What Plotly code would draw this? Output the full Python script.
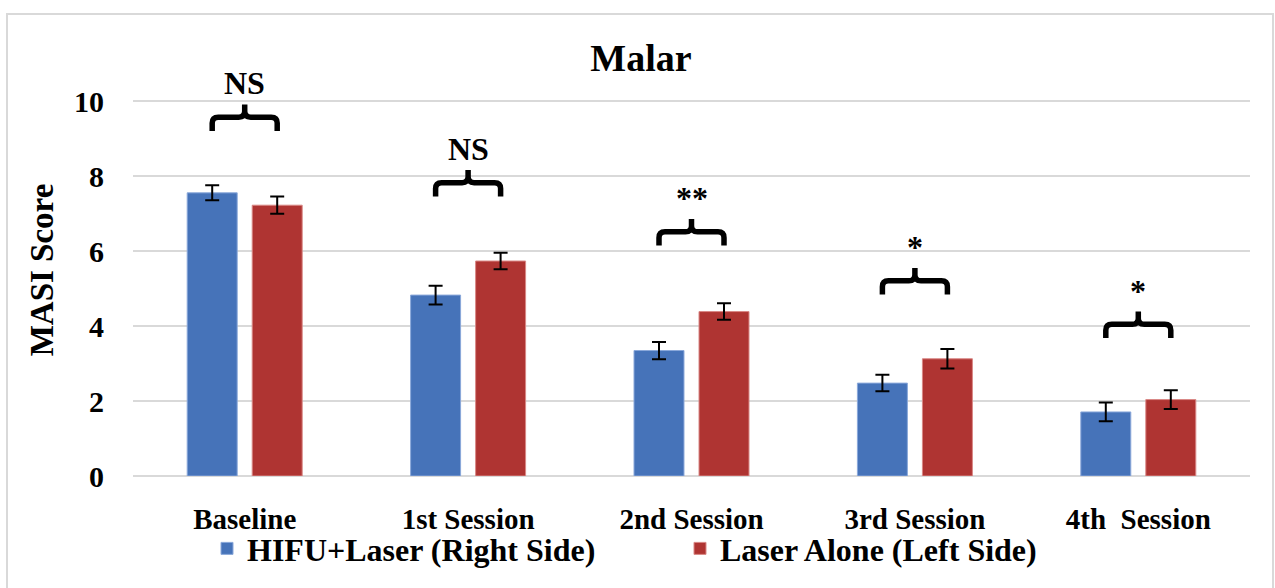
import plotly.graph_objects as go

# ---- data ----
categories = ["Baseline", "1st Session", "2nd Session", "3rd Session", "4th  Session"]
hifu_laser = [7.56, 4.83, 3.35, 2.48, 1.71]
hifu_laser_err = [0.20, 0.25, 0.23, 0.22, 0.25]
laser_alone = [7.23, 5.74, 4.39, 3.13, 2.04]
laser_alone_err = [0.23, 0.22, 0.22, 0.26, 0.25]
sig_labels = ["NS", "NS", "**", "*", "*"]
bracket_levels = [9.58, 7.83, 6.52, 5.21, 4.05]
y_ticks = [0, 2, 4, 6, 8, 10]

# ---- layout constants ----
W, H = 1275, 588
ML, MT = 133, 64
MR = W - 1250
MB = H - 484
YMAX = 11
BARGAP = 0.418
BARGROUPGAP = 0.231
FONT = "Liberation Serif, Times New Roman, serif"
BLUE = "#4673B9"
RED = "#AF3432"

x_idx = list(range(len(categories)))
plot_w = W - ML - MR
plot_h = H - MT - MB
px_x = plot_w / len(categories)   # px per category unit
px_y = plot_h / YMAX              # px per y unit
half = (1 - BARGAP) / 4           # offset of bar centers from category center

fig = go.Figure()
fig.add_trace(go.Bar(
    x=x_idx, y=hifu_laser, name="<b>HIFU+Laser (Right Side)</b>",
    marker=dict(color=BLUE, line=dict(color="#8AA8DA", width=1)),
    error_y=dict(type="data", array=hifu_laser_err, color="black", thickness=2, width=7),
))
fig.add_trace(go.Bar(
    x=x_idx, y=laser_alone, name="<b>Laser Alone (Left Side)</b>",
    marker=dict(color=RED, line=dict(color="#D98886", width=1)),
    error_y=dict(type="data", array=laser_alone_err, color="black", thickness=2, width=7),
))

# significance brackets
drop = 14 / px_y
rise = 13 / px_y
ry = 6 / px_y
rx = 6 / px_x
shapes = []
annotations = []
for i, (lvl, lab) in enumerate(zip(bracket_levels, sig_labels)):
    x1, xc, x2 = i - half, i, i + half
    top = lvl + rise
    path = (
        f"M {x1},{lvl - drop} L {x1},{lvl - ry} Q {x1},{lvl} {x1 + rx},{lvl} "
        f"L {xc - rx},{lvl} Q {xc},{lvl} {xc},{lvl + ry} L {xc},{top} "
        f"M {xc},{lvl + ry} Q {xc},{lvl} {xc + rx},{lvl} "
        f"L {x2 - rx},{lvl} Q {x2},{lvl} {x2},{lvl - ry} L {x2},{lvl - drop}"
    )
    shapes.append(dict(type="path", xref="x", yref="y", path=path,
                       line=dict(color="black", width=5.5)))
    annotations.append(dict(x=xc, y=top, xref="x", yref="y", text=f"<b>{lab}</b>",
                            showarrow=False, yanchor="bottom", yshift=1,
                            font=dict(family=FONT, size=32, color="black")))


def px_to_paper_x(sx):
    return (sx - ML) / plot_w


def px_to_paper_y(sy):
    return (MT + plot_h - sy) / plot_h


# outer light border
shapes.append(dict(type="rect", xref="paper", yref="paper",
                   x0=px_to_paper_x(7), x1=px_to_paper_x(1273),
                   y0=px_to_paper_y(640), y1=px_to_paper_y(13),
                   line=dict(color="#D9D9D9", width=2), layer="below"))

fig.update_layout(
    width=W, height=H,
    margin=dict(l=ML, r=MR, t=MT, b=MB, pad=0),
    paper_bgcolor="white", plot_bgcolor="white",
    barmode="group", bargap=BARGAP, bargroupgap=BARGROUPGAP,
    title=dict(text="<b>Malar</b>", x=641 / W,
               xanchor="center", y=1 - 58 / H, yanchor="middle",
               font=dict(family=FONT, size=38, color="black")),
    font=dict(family=FONT, color="black"),
    showlegend=True,
    legend=dict(orientation="h", x=px_to_paper_x(207), xanchor="left",
                y=px_to_paper_y(558), yanchor="middle",
                font=dict(family=FONT, size=32, color="black"),
                itemwidth=30, entrywidth=428, entrywidthmode="pixels",
                tracegroupgap=0, bgcolor="rgba(0,0,0,0)"),
    shapes=shapes, annotations=annotations,
)
fig.update_xaxes(
    range=[-0.5, len(categories) - 0.5], tickvals=x_idx,
    ticktext=[f"<b>{c}</b>" for c in categories],
    tickfont=dict(family=FONT, size=29, color="black"),
    showgrid=False, showline=False, zeroline=False, ticks="",
    ticklabelstandoff=23,
)
fig.update_yaxes(
    range=[0, YMAX], tickvals=y_ticks, ticktext=[f"<b>{t}</b>" for t in y_ticks],
    tickfont=dict(family=FONT, size=30, color="black"),
    showgrid=True, gridcolor="#D9D9D9", gridwidth=1.5,
    zeroline=True, zerolinecolor="#D9D9D9", zerolinewidth=1.5,
    showline=False, ticks="", ticklabelstandoff=28,
    title=dict(text="<b>MASI Score</b>", font=dict(family=FONT, size=33, color="black"),
               standoff=10),
)

page_css = (
    "var de=document.documentElement, b=document.body;"
    "de.style.margin='0'; de.style.padding='0'; de.style.overflow='hidden';"
    "b.style.margin='0'; b.style.padding='0'; b.style.overflow='hidden';"
    "b.style.lineHeight='0'; b.style.height='588px';"
)
fig.write_html("out.html", config={"displayModeBar": False}, post_script=page_css)
